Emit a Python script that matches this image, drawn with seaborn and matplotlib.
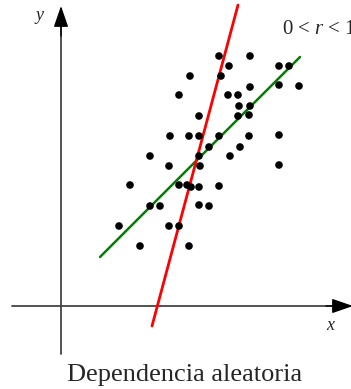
import matplotlib
matplotlib.use("Agg")
import matplotlib.pyplot as plt
import seaborn as sns
import pandas as pd

# scatter points (arbitrary units, origin at axes crossing)
pts_x = [15.8, 18.9, 16.8, 21.8, 22.8, 12.9, 16.0, 18.9, 21.8, 23.8,
         11.8, 16.7, 17.7, 17.8, 18.9, 13.8, 17.7, 18.8, 10.9, 12.8,
         13.8, 15.8, 18.8, 21.8, 14.8, 17.9, 8.9, 13.8, 16.9, 10.8,
         13.9, 21.8, 6.9, 11.8, 12.6, 13.0, 13.8, 15.8, 8.9, 9.9,
         13.8, 14.8, 5.8, 10.8, 11.8, 7.9, 12.8]
pts_y = [25.0, 25.0, 24.0, 24.0, 24.0, 23.0, 23.0, 21.9, 22.1, 22.0,
         21.1, 21.1, 21.1, 20.0, 20.0, 19.0, 19.0, 19.1, 17.0, 17.0,
         17.0, 17.0, 17.0, 17.1, 15.9, 15.9, 15.0, 15.0, 15.0, 14.0,
         14.0, 14.1, 12.1, 12.1, 12.1, 11.9, 11.9, 12.0, 10.0, 10.0,
         10.1, 10.0, 8.0, 8.0, 8.0, 6.0, 6.0]

# regression lines (endpoints)
green_x = [3.9, 23.9]
green_y = [4.9, 24.9]
red_x = [9.1, 17.7]
red_y = [-2.0, 30.1]

sns.set_style("white")
plt.rcParams['font.family'] = ['Liberation Serif', 'DejaVu Serif']
plt.rcParams['mathtext.fontset'] = 'custom'
plt.rcParams['mathtext.rm'] = 'Liberation Serif'
plt.rcParams['mathtext.it'] = 'Liberation Serif:italic'

fig = plt.figure(figsize=(3.51, 3.89), dpi=100)
ax = fig.add_axes([0, 0, 1, 1])
ax.axis("off")

# axes with arrows
ax.plot([0, 0], [-4.8, 28.0], color="#444444", lw=1.3, zorder=1)
ax.plot([-4.9, 28.0], [0, 0], color="#444444", lw=1.3, zorder=1)
arrow = dict(arrowstyle="-|>,head_length=1.3,head_width=0.45", color="black", lw=1.0,
             shrinkA=0, shrinkB=0)
ax.annotate("", xy=(0, 30.0), xytext=(0, 27.0), arrowprops=arrow, annotation_clip=False)
ax.annotate("", xy=(29.2, 0), xytext=(26.5, 0), arrowprops=arrow, annotation_clip=False)

df = pd.DataFrame({"x": pts_x, "y": pts_y})
sns.scatterplot(data=df, x="x", y="y", color="black", s=30, edgecolor="none", ax=ax, zorder=3)
sns.lineplot(x=green_x, y=green_y, color="#008000", lw=1.8, ax=ax, zorder=2)
sns.lineplot(x=red_x, y=red_y, color="#ff0000", lw=2.0, ax=ax, zorder=2)
ax.set_xlim(-6.1, 29.0)
ax.set_ylim(-8.3, 30.6)

ax.text(-2.1, 29.1, "y", fontsize=13, style="italic", ha="center", va="center")
ax.text(26.9, -2.0, "x", fontsize=13, style="italic", ha="center", va="center")
ax.text(22.1, 27.7, "0 < $r$ < 1", fontsize=15, va="center", ha="left")
ax.text(12.4, -6.9, "Dependencia aleatoria", fontsize=19, ha="center", va="center")

fig.savefig("out.png", dpi=100)
